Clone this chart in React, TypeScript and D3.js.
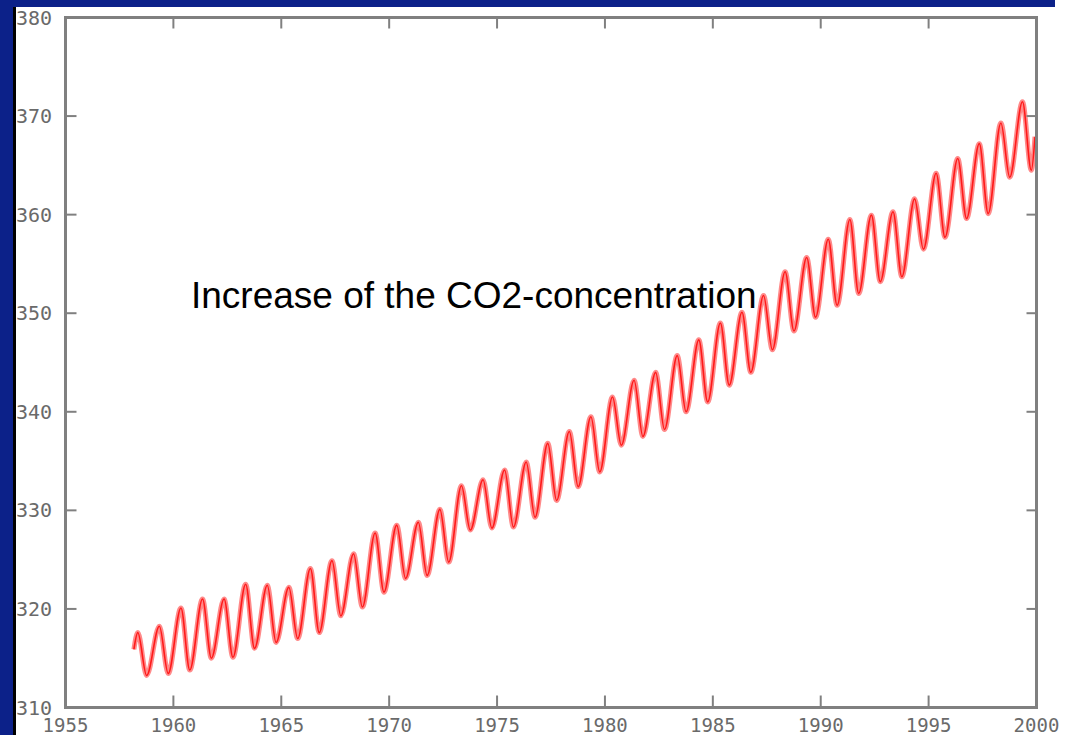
import React from "react";
import * as d3 from "d3";

const years: number[] = [
  1958, 1959, 1960, 1961, 1962, 1963, 1964, 1965, 1966, 1967,
  1968, 1969, 1970, 1971, 1972, 1973, 1974, 1975, 1976, 1977,
  1978, 1979, 1980, 1981, 1982, 1983, 1984, 1985, 1986, 1987,
  1988, 1989, 1990, 1991, 1992, 1993, 1994, 1995, 1996, 1997,
  1998, 1999,
];

// spring maximum of each year (ppm)
const peakPpm: number[] = [
  317.6, 318.25, 320.1, 321.0, 321.0, 322.5, 322.4, 322.2, 324.1, 324.9,
  325.6, 327.7, 328.5, 328.8, 330.1, 332.5, 333.1, 334.1, 334.9, 336.8,
  338.0, 339.5, 341.5, 343.2, 344.0, 345.7, 347.3, 349.0, 350.1, 351.8,
  354.2, 355.65, 357.5, 359.5, 359.95, 360.3, 361.6, 364.2, 365.7, 367.2,
  369.3, 371.45,
];

// autumn minimum of each year (ppm)
const troughPpm: number[] = [
  313.25, 313.45, 313.8, 315.0, 315.1, 316.0, 316.6, 317.0, 317.6, 319.3,
  320.2, 321.7, 323.1, 323.4, 324.75, 328.0, 328.2, 328.3, 329.3, 331.0,
  332.4, 333.9, 336.6, 337.5, 338.2, 340.0, 341.0, 342.7, 344.0, 346.3,
  348.2, 349.6, 350.8, 352.0, 353.2, 353.7, 356.5, 357.7, 359.6, 360.1,
  363.8, 364.5,
];

const firstPoint: [number, number] = [1958.17, 315.9];
const lastPoint: [number, number] = [1999.93, 367.9];

const xTickLabels: string[] = ["1955", "1960", "1965", "1970", "1975", "1980", "1985", "1990", "1995", "2000"];
const yTickLabels: string[] = ["310", "320", "330", "340", "350", "360", "370", "380"];

const title = "Increase of the CO2-concentration";

const W = 1068;
const H = 735;
const plot = { left: 65.5, right: 1036.5, top: 17.5, bottom: 707.5 };
const AXIS = "#808080";
const BLUE = "#0c2189";

export default function App() {
  const x = d3.scaleLinear().domain([1955, 2000]).range([plot.left, plot.right]);
  const y = d3.scaleLinear().domain([310, 380]).range([plot.bottom, plot.top]);

  const pts: [number, number][] = [firstPoint];
  years.forEach((yr, i) => {
    pts.push([yr + 0.35, peakPpm[i]]);
    pts.push([yr + 0.76, troughPpm[i]]);
  });
  pts.push(lastPoint);

  const line = d3
    .line<[number, number]>()
    .x((d) => x(d[0]))
    .y((d) => y(d[1]))
    .curve(d3.curveMonotoneX);
  const path = line(pts) || "";

  const xt = xTickLabels.map((s) => +s);
  const yt = yTickLabels.map((s) => +s);

  return (
    <svg
      width={W}
      height={H}
      style={{ position: "absolute", left: 0, top: 0, display: "block" }}
    >
      <style>{`body{margin:0}`}</style>
      <rect x={0} y={0} width={W} height={H} fill="#ffffff" />

      {/* data */}
      <path d={path} fill="none" stroke="#ff8a8a" strokeWidth={5} strokeLinejoin="round" />
      <path d={path} fill="none" stroke="#ff1a1a" strokeWidth={1.6} strokeLinejoin="round" />

      {/* frame */}
      <rect
        x={plot.left}
        y={plot.top}
        width={plot.right - plot.left}
        height={plot.bottom - plot.top}
        fill="none"
        stroke={AXIS}
        strokeWidth={3}
      />

      {/* x ticks */}
      {xt.map((v) => (
        <g key={"xt" + v}>
          <line x1={x(v)} x2={x(v)} y1={plot.bottom} y2={plot.bottom - 12} stroke={AXIS} strokeWidth={2} />
          <line x1={x(v)} x2={x(v)} y1={plot.top} y2={plot.top + 11} stroke={AXIS} strokeWidth={2} />
        </g>
      ))}
      {/* y ticks */}
      {yt.map((v) => (
        <g key={"yt" + v}>
          <line x1={plot.left} x2={plot.left + 11} y1={y(v)} y2={y(v)} stroke={AXIS} strokeWidth={2} />
          <line x1={plot.right} x2={plot.right - 10} y1={y(v)} y2={y(v)} stroke={AXIS} strokeWidth={2} />
        </g>
      ))}

      {/* tick labels */}
      {xTickLabels.map((s, i) => (
        <text
          key={"xl" + s}
          x={x(xt[i])}
          y={725}
          textAnchor="middle"
          dominantBaseline="central"
          fontFamily="'DejaVu Sans Mono', monospace"
          fontSize={19}
          fill="#6a6a6a"
        >
          {s}
        </text>
      ))}
      {yTickLabels.map((s, i) => (
        <text
          key={"yl" + s}
          x={16}
          y={y(yt[i])}
          textAnchor="start"
          dominantBaseline="central"
          fontFamily="'DejaVu Sans Mono', monospace"
          fontSize={20}
          fill="#6a6a6a"
        >
          {s}
        </text>
      ))}

      {/* annotation */}
      <text x={191} y={308} fontFamily="'Liberation Sans', Arial, sans-serif" fontSize={37} fill="#000000">
        {title}
      </text>

      {/* slide background bands */}
      <rect x={0} y={0} width={1055} height={7} fill={BLUE} />
      <rect x={0} y={0} width={13} height={H} fill={BLUE} />
      <rect x={13} y={7} width={3} height={H - 7} fill="#000000" />
    </svg>
  );
}
